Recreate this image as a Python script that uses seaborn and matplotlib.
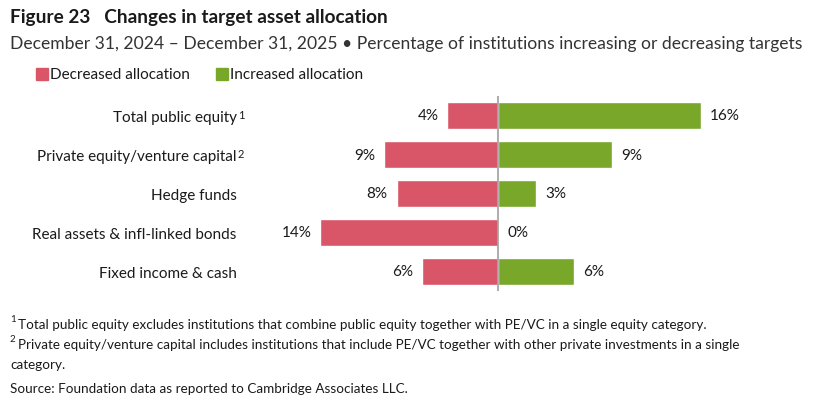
import pandas as pd
import seaborn as sns
import matplotlib.pyplot as plt

categories = ["Total public equity", "Private equity/venture capital", "Hedge funds",
              "Real assets & infl-linked bonds", "Fixed income & cash"]
superscripts = ["1", "2", "", "", ""]
decreased = [4, 9, 8, 14, 6]
increased = [16, 9, 3, 0, 6]
series = ["Decreased allocation", "Increased allocation"]

red = "#D95668"
green = "#78A72A"
txt = "#1a1a1a"

sns.set_style("white")
plt.rcParams["font.family"] = ["Lato", "DejaVu Sans"]

df = pd.DataFrame({
    "category": categories * 2,
    "value": [-v for v in decreased] + increased,
    "series": [series[0]] * 5 + [series[1]] * 5,
})

fig = plt.figure(figsize=(8.28, 4.10), dpi=100)
W, H = 828, 410
ax = fig.add_axes([295 / W, 1 - 292 / H, (777.4 - 295) / W, 195 / H])

sns.barplot(data=df, x="value", y="category", hue="series", orient="h",
            dodge=False, width=0.667, palette={series[0]: red, series[1]: green},
            order=categories, hue_order=series, legend=False, ax=ax,
            saturation=1)

for c in ax.containers:
    ax.bar_label(c, fmt=lambda v: f"{abs(v):.0f}%", padding=6.5, fontsize=11, color=txt)

ax.axvline(0, color="#A0A0A0", lw=1.2)
ax.set_xlim(-16, 22)
ax.set_ylim(4.5, -0.5)
ax.set_xlabel("")
ax.set_ylabel("")
ax.set_xticks([])
sns.despine(ax=ax, left=True, bottom=True)
ax.tick_params(axis="y", length=0, pad=42, labelsize=11, labelcolor=txt)

# superscripts after the category labels
fig.canvas.draw()
renderer = fig.canvas.get_renderer()
for lab, sup in zip(ax.get_yticklabels(), superscripts):
    if not sup:
        continue
    bb = lab.get_window_extent(renderer)
    x1, y1 = fig.transFigure.inverted().transform((bb.x1 + 1, bb.y1 + 1))
    fig.text(x1, y1, sup, fontsize=8, color=txt, va="top", ha="left")

fig.text(10 / W, 1 - 18 / H, "Figure 23   Changes in target asset allocation",
         fontsize=13.7, fontweight="bold", color=txt, va="center")
fig.text(10 / W, 1 - 44 / H,
         "December 31, 2024 \u2013 December 31, 2025 \u2022 Percentage of institutions increasing or decreasing targets",
         fontsize=12.6, color="#333333", va="center")

# legend
for i, (x0, col) in enumerate([(36, red), (216, green)]):
    fig.patches.append(plt.Rectangle((x0 / W, 1 - 81 / H), 12 / W, 12 / H,
                                     transform=fig.transFigure, color=col))
    fig.text((x0 + 14) / W, 1 - 75 / H, series[i], fontsize=11, color=txt, va="center")

foot = [
    (325, "1", "Total public equity excludes institutions that combine public equity together with PE/VC in a single equity category."),
    (345, "2", "Private equity/venture capital includes institutions that include PE/VC together with other private investments in a single"),
    (365, "", "category."),
    (389, "", "Source: Foundation data as reported to Cambridge Associates LLC."),
]
for y, sup, line in foot:
    if sup:
        fig.text(10 / W, 1 - (y - 5) / H, sup, fontsize=7, color=txt, va="center")
        fig.text(18 / W, 1 - y / H, line, fontsize=9.75, color=txt, va="center")
    else:
        fig.text(10 / W, 1 - y / H, line, fontsize=9.75, color=txt, va="center")

fig.savefig("out.png", dpi=100)
